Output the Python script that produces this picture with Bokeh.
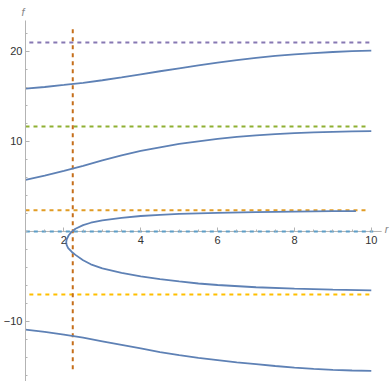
from bokeh.plotting import figure
from bokeh.models import FixedTicker, Range1d
from bokeh.core.properties import value
from bokeh.embed import file_html
from bokeh.resources import INLINE

# ---- data ----
r_top = [1, 1.5, 2, 2.5, 3, 3.5, 4, 4.5, 5, 5.5, 6, 6.5, 7, 7.5, 8, 8.5, 9, 9.5, 10]
f_top = [15.86, 16.05, 16.28, 16.52, 16.8, 17.12, 17.46, 17.8, 18.13, 18.45, 18.75,
         19.03, 19.28, 19.5, 19.68, 19.82, 19.94, 20.03, 20.1]

r_second = [1, 1.5, 2, 2.5, 3, 3.5, 4, 4.5, 5, 5.5, 6, 6.5, 7, 7.5, 8, 8.5, 9, 9.5, 10]
f_second = [5.74, 6.2, 6.72, 7.3, 7.9, 8.45, 8.95, 9.35, 9.72, 10.02, 10.28, 10.5,
            10.68, 10.82, 10.93, 11.01, 11.07, 11.11, 11.14]

r_fold = [9.6, 9, 8, 7, 6, 5, 4.5, 4, 3.5, 3, 2.7, 2.5, 2.3, 2.2, 2.12, 2.07, 2.06,
          2.07, 2.11, 2.2, 2.3, 2.5, 2.7, 3, 3.5, 4, 4.5, 5, 5.5, 6, 7, 8, 9, 10]
f_fold = [2.27, 2.25, 2.2, 2.14, 2.07, 1.95, 1.84, 1.72, 1.52, 1.24, 0.97, 0.7, 0.3,
          -0.05, -0.45, -0.9, -1.2, -1.5, -1.85, -2.25, -2.6, -3.2, -3.65, -4.1,
          -4.6, -5.0, -5.3, -5.55, -5.78, -5.95, -6.2, -6.35, -6.46, -6.55]

r_bottom = [1, 1.5, 2, 2.5, 3, 3.5, 4, 4.5, 5, 5.5, 6, 6.5, 7, 7.5, 8, 8.5, 9, 9.5, 10]
f_bottom = [-10.9, -11.15, -11.45, -11.8, -12.2, -12.6, -13.0, -13.4, -13.75, -14.05,
            -14.3, -14.55, -14.75, -14.95, -15.12, -15.26, -15.37, -15.45, -15.5]

# dashed asymptote levels and their r extent
h_levels = [21.0, 11.67, 2.35, 0.0, -7.0]
h_start = [1.1, 1.0, 1.0, 0.8, 1.1]
h_end = [10.0, 9.9, 9.9, 10.05, 10.0]

v_r = 2.23
v_f = [-15.3, 22.9]

x_major = [2, 4, 6, 8, 10]
x_minor = [1 + 0.5 * i for i in range(19)]
y_major = [-10, 10, 20]
y_minor = [-16 + 2 * i for i in range(20)]
y_labels = {-10: "\u221210", 10: "10", 20: "20"}

# ---- styles ----
CURVE = "#5E81B5"
H_COLORS = ["#8778B3", "#8FB032", "#E19C24", "#5D9EC7", "#FFBF00"]
V_COLOR = "#C56E1A"
AXIS = "#b3b3b3"
FONT = "Liberation Sans"

p = figure(width=390, height=381, output_backend="svg", toolbar_location=None,
           x_range=Range1d(1, 10.5), y_range=Range1d(-16.67, 23.44),
           min_border_left=24, min_border_right=0, min_border_top=20,
           min_border_bottom=0, title="f")
p.grid.visible = False
p.outline_line_color = None
p.title.text_font = FONT
p.title.text_font_style = "italic"
p.title.text_font_size = "11px"
p.title.text_color = "#888888"
p.title.align = "left"
p.title.offset = -4
p.title.standoff = 6

p.xaxis.fixed_location = 0
p.xaxis.axis_line_color = None

p.xaxis.ticker = FixedTicker(ticks=x_major, minor_ticks=x_minor)
p.yaxis.ticker = FixedTicker(ticks=y_major, minor_ticks=y_minor)
p.yaxis.major_label_overrides = y_labels

for ax in (p.xaxis[0], p.yaxis[0]):
    ax.major_tick_line_color = AXIS
    ax.minor_tick_line_color = AXIS
    ax.major_tick_in = 4
    ax.major_tick_out = 0
    ax.minor_tick_in = 2
    ax.minor_tick_out = 0
    ax.major_label_text_font = FONT
    ax.major_label_text_font_size = "11px"
    ax.major_label_text_color = "#333333"
p.yaxis.axis_line_color = AXIS
p.yaxis.major_label_standoff = 3
p.xaxis.major_label_standoff = 5

# horizontal axis line (ends short of the frame edge, like the reference)
p.line([1, 10.27], [0, 0], line_color=AXIS, line_width=1)

for lvl, x0, x1, c in zip(h_levels, h_start, h_end, H_COLORS):
    p.line([x0, x1], [lvl, lvl], line_color=c, line_width=2, line_dash="4 4")

p.line([v_r, v_r], v_f, line_color=V_COLOR, line_width=2, line_dash="4 4")

for xs, ys in ((r_top, f_top), (r_second, f_second), (r_fold, f_fold),
               (r_bottom, f_bottom)):
    p.line(xs, ys, line_color=CURVE, line_width=1.8)

p.text(x=[10.35], y=[0.3], text=["r"], text_font=value(FONT),
       text_font_style="italic", text_font_size="11px", text_color="#888888",
       text_align="left", text_baseline="middle")

open("out.html", "w").write(file_html(p, INLINE))
